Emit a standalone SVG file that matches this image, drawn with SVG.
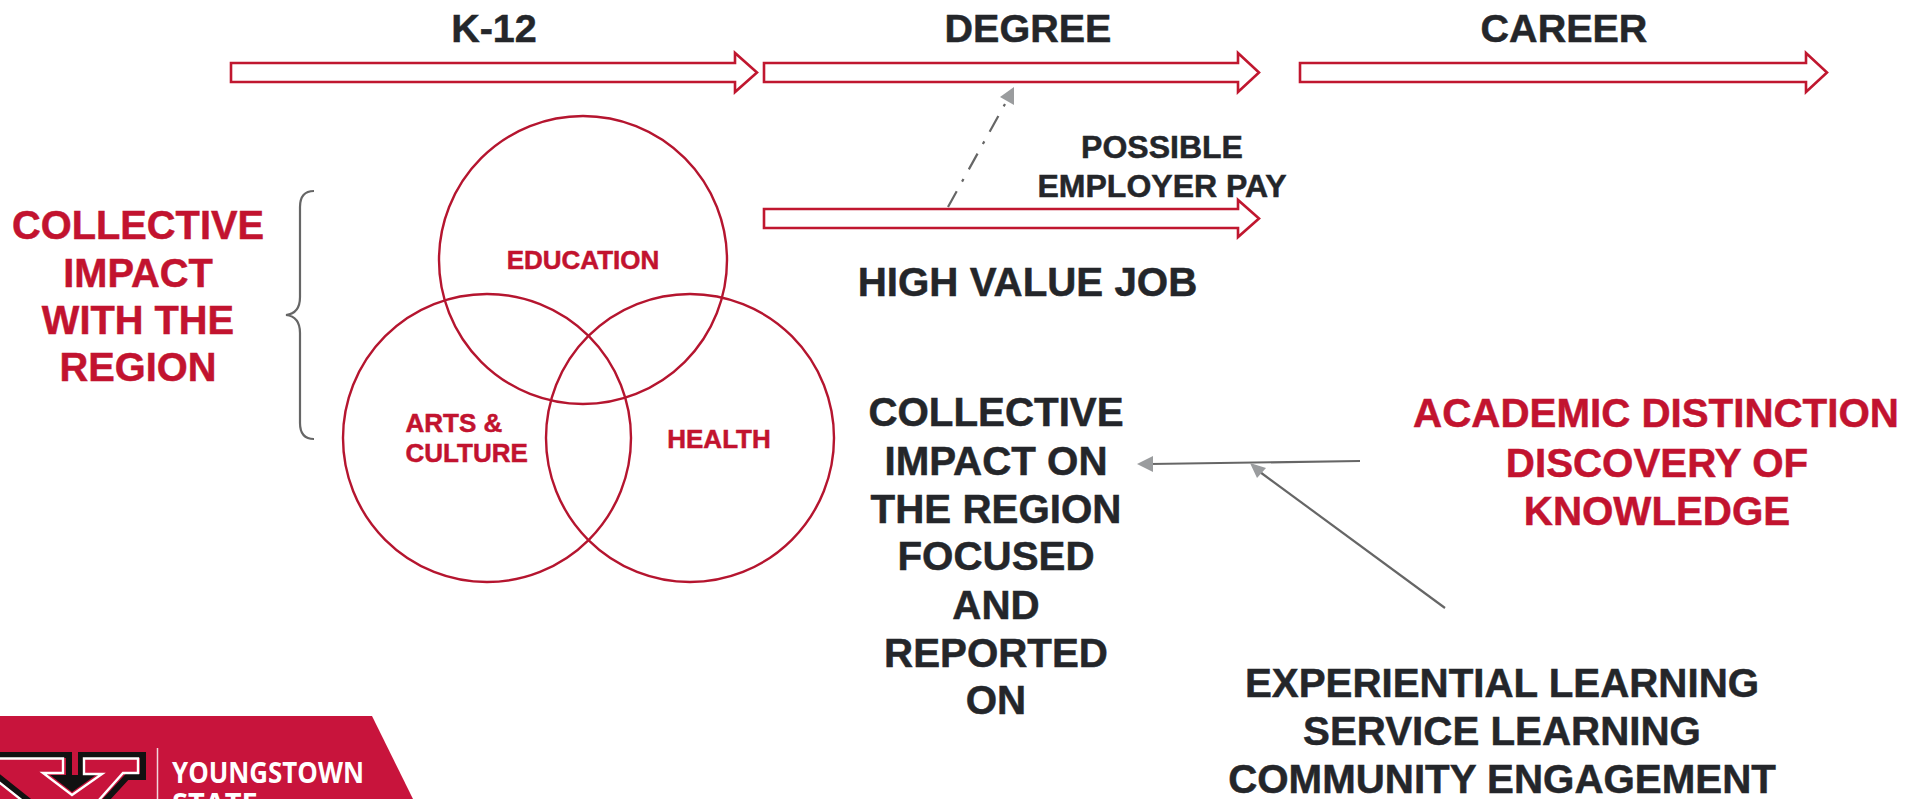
<svg xmlns="http://www.w3.org/2000/svg" width="1923" height="799" viewBox="0 0 1923 799">
<style>
text{font-family:"Liberation Sans",Arial,sans-serif;font-weight:700;text-anchor:middle;stroke-width:.5px}
.d{fill:#24262a;stroke:#24262a}.r{fill:#c2132f;stroke:#c2132f}
.t{font-size:39.5px}.l{font-size:40.3px}.w{font-size:39.8px}.s{font-size:26px}.m{font-size:32px}
.st{text-anchor:start}
.arrow{fill:#fff;stroke:#c0172f;stroke-width:2.6}
.circ{fill:none;stroke:#b5152f;stroke-width:2.4}
.g{stroke:#666;stroke-width:2.2;fill:none}
.h{fill:#9a9c9e}
.lg{font-family:"Open Sans",sans-serif;font-size:29px;text-anchor:start;font-weight:700;fill:#fff;stroke:none}
</style>
<rect width="1923" height="799" fill="#fff"/>
<g id="connectors">
<path class="arrow" d="M231 63H735V53L757 72.500L735 92V82H231Z"/>
<path class="arrow" d="M764 63H1238V53L1259 72.500L1238 92V82H764Z"/>
<path class="arrow" d="M1300 63H1806V53L1827 72.500L1806 92V82H1300Z"/>
<path class="arrow" d="M764 209H1238V200L1259 218.500L1238 237V228H764Z"/>
<path class="g" stroke-dasharray="18 11 3 11" d="M948 207L1005 104"/>
<path class="h" d="M1014 87L1000 97L1014 105Z"/>
<path class="g" d="M1360 461L1150 464"/>
<path class="h" d="M1137 464L1153 456V472Z"/>
<path class="g" d="M1445 608L1260 472"/>
<path class="h" d="M1250 463L1257 478L1266 468Z"/>
<path class="g" d="M314 191C304 191 300 197 300 207V297C300 308 295 314 286 315C295 316 300 322 300 333V423C300 433 304 439 314 439"/>
</g>
<g id="k12"><text class="t d" x="494" y="42">K-12</text></g>
<g id="degree"><text class="t d" x="1028" y="42">DEGREE</text></g>
<g id="career"><text class="t d" x="1564" y="42">CAREER</text></g>
<g id="possible"><text class="m d" x="1162" y="158">POSSIBLE</text><text class="m d" x="1162" y="197">EMPLOYER PAY</text></g>
<g id="high-value"><text class="l d" x="1027.500" y="296">HIGH VALUE JOB</text></g>
<g id="education"><circle class="circ" cx="583" cy="260" r="144"/><text class="s r" x="583" y="269">EDUCATION</text></g>
<g id="arts"><circle class="circ" cx="487" cy="438" r="144"/><text class="s r st" x="405.500" y="432">ARTS &amp;</text><text class="s r st" x="405.500" y="462">CULTURE</text></g>
<g id="health"><circle class="circ" cx="690" cy="438" r="144"/><text class="s r" x="719" y="448">HEALTH</text></g>
<g id="impact-with"><text class="w r" x="138" y="239">COLLECTIVE</text><text class="w r" x="138" y="287">IMPACT</text><text class="w r" x="138" y="334">WITH THE</text><text class="w r" x="138" y="381">REGION</text></g>
<g id="impact-on"><text class="l d" x="996" y="426">COLLECTIVE</text><text class="l d" x="996" y="475">IMPACT ON</text><text class="l d" x="996" y="523">THE REGION</text><text class="l d" x="996" y="570">FOCUSED</text><text class="l d" x="996" y="619">AND</text><text class="l d" x="996" y="667">REPORTED</text><text class="l d" x="996" y="714">ON</text></g>
<g id="academic"><text class="l r" x="1656" y="427">ACADEMIC DISTINCTION</text><text class="l r" x="1657" y="477">DISCOVERY OF</text><text class="l r" x="1657" y="525">KNOWLEDGE</text></g>
<g id="experiential"><text class="l d" x="1502" y="697">EXPERIENTIAL LEARNING</text><text class="l d" x="1502" y="745">SERVICE LEARNING</text><text class="l d" x="1502" y="793">COMMUNITY ENGAGEMENT</text></g>
<g id="logo">
<path d="M0 716H372L413 799H0Z" fill="#c8143c"/>
<path d="M157.500 748V799" stroke="#f2d5da" stroke-width="1.500"/>
<g fill="none">
<path d="M-5 755H69V777M81 777V755H143V777H127L104 802M-5 774L30 802" stroke="#111" stroke-width="6"/>
<path d="M50 775H96L72 792Z" fill="#111"/>
<path d="M-5 758.500H63V773H43L72 795L102 774H84V758.500H138V773H123L99 800M-5 779L24 802" stroke="#fff" stroke-width="2.400"/>
</g>
<text class="lg" x="172" y="783" textLength="192" lengthAdjust="spacingAndGlyphs">YOUNGSTOWN</text>
<text class="lg" x="172" y="814">STATE</text>
</g>
</svg>
